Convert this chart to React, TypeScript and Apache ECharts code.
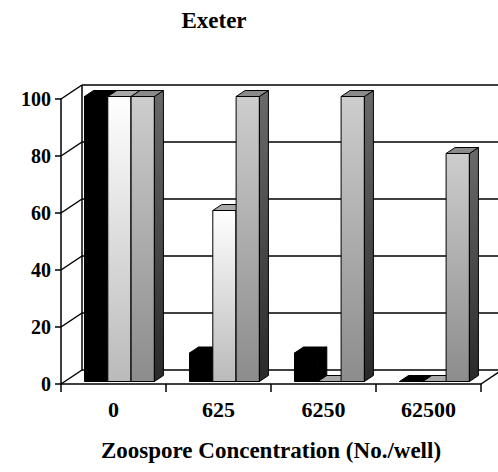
import React, { useEffect, useRef } from "react";
import * as echarts from "echarts";

const categories = ["0", "625", "6250", "62500"];
const seriesNames = ["Series A", "Series B", "Series C"];
const blackValues = [100, 10, 10, 0];
const whiteValues = [100, 60, 0, 0];
const grayValues = [100, 100, 100, 80];
const yTicks = [0, 20, 40, 60, 80, 100];

const FONT = "Liberation Serif";
const DX = 21; // wall depth
const DY = -14;
const BDX = 9; // bar depth
const BDY = -6;
const FDY = -2.5; // bar front-face offset

type Style = { front: any; top: string; side: any };

const styles: Style[] = [
  { front: "#000000", top: "#000000", side: "#000000" },
  {
    front: new echarts.graphic.LinearGradient(0, 0, 0, 1, [
      { offset: 0, color: "#ffffff" },
      { offset: 1, color: "#bababa" },
    ]),
    top: "#a8a8a8",
    side: "#8a8a8a",
  },
  {
    front: new echarts.graphic.LinearGradient(0, 0, 0, 1, [
      { offset: 0, color: "#cdcdcd" },
      { offset: 1, color: "#8c8c8c" },
    ]),
    top: "#8a8a8a",
    side: new echarts.graphic.LinearGradient(0, 0, 0, 1, [
      { offset: 0, color: "#6a6a6a" },
      { offset: 1, color: "#2a2a2a" },
    ]),
  },
];

function barRender(s: number) {
  return (params: any, api: any) => {
    const idx = api.value(0);
    const val = api.value(1);
    const top = api.coord([idx, val]);
    const base = api.coord([idx, 0]);
    const catW = api.size([1, 0])[0];
    const barW = catW * (23.3 / 105);
    const xL = top[0] - catW / 2 + catW * (23.5 / 105) + s * barW;
    const xR = xL + barW;
    const yT = top[1] + FDY;
    const yB = base[1] + FDY;
    const st = styles[s];
    const stroke = { stroke: "#000", lineWidth: 1 };
    return {
      type: "group",
      children: [
        {
          type: "polygon",
          shape: { points: [[xL, yB], [xL, yT], [xR, yT], [xR, yB]] },
          style: { fill: st.front, ...stroke },
        },
        {
          type: "polygon",
          shape: { points: [[xR, yB], [xR, yT], [xR + BDX, yT + BDY], [xR + BDX, yB + BDY]] },
          style: { fill: st.side, ...stroke },
        },
        {
          type: "polygon",
          shape: { points: [[xL, yT], [xL + BDX, yT + BDY], [xR + BDX, yT + BDY], [xR, yT]] },
          style: { fill: st.top, ...stroke },
        },
      ],
    };
  };
}

function wallRender(params: any, api: any) {
  const v = api.value(1);
  const cs = params.coordSys;
  const y = api.coord([0, v])[1];
  const y0 = api.coord([0, 0])[1];
  const x0 = cs.x;
  const x1 = cs.x + cs.width;
  const ls = { stroke: "#000", lineWidth: 1.5 };
  const children: any[] = [
    { type: "line", shape: { x1: x0, y1: y, x2: x0 + DX, y2: y + DY }, style: ls },
    { type: "line", shape: { x1: x0 + DX, y1: y + DY, x2: x1 + DX, y2: y + DY }, style: ls },
  ];
  if (v === 0) {
    children.push({ type: "line", shape: { x1: x1, y1: y, x2: x1 + DX, y2: y + DY }, style: ls });
  }
  if (v === yTicks[yTicks.length - 1]) {
    children.push({ type: "line", shape: { x1: x0 + DX, y1: y + DY, x2: x0 + DX, y2: y0 + DY }, style: ls });
  }
  return { type: "group", children };
}

export default function App() {
  const ref = useRef<HTMLDivElement>(null);
  useEffect(() => {
    if (!ref.current) return;
    const chart = echarts.init(ref.current, undefined, { renderer: "svg" });
    const valueSets = [blackValues, whiteValues, grayValues];
    chart.setOption({
      animation: false,
      backgroundColor: "#ffffff",
      title: {
        text: "Exeter",
        left: 209,
        top: 4,
        textAlign: "center",
        textStyle: { fontFamily: FONT, fontWeight: "bold", fontSize: 23, color: "#000" },
      },
      grid: { left: 61, right: 17, top: 99, bottom: 88 },
      xAxis: {
        type: "category",
        data: categories,
        axisLine: { show: true, lineStyle: { color: "#000", width: 1.5 } },
        axisTick: { show: true, length: 8, lineStyle: { color: "#000", width: 1.5 } },
        axisLabel: { fontFamily: FONT, fontWeight: "bold", fontSize: 22, color: "#000", margin: 14 },
        name: "Zoospore Concentration (No./well)",
        nameLocation: "middle",
        nameGap: 55,
        nameTextStyle: { fontFamily: FONT, fontWeight: "bold", fontSize: 23, color: "#000" },
      },
      yAxis: {
        type: "value",
        min: 0,
        max: 100,
        interval: 20,
        axisLine: { show: true, lineStyle: { color: "#000", width: 1.5 } },
        axisTick: { show: true, length: 6, lineStyle: { color: "#000", width: 1.5 } },
        axisLabel: { fontFamily: FONT, fontWeight: "bold", fontSize: 20, color: "#000", margin: 10 },
        splitLine: { show: false },
      },
      series: [
        {
          type: "custom",
          name: "walls",
          renderItem: wallRender,
          data: yTicks.map((v) => [0, v]),
          z: 1,
          silent: true,
        },
        ...valueSets.map((vals, s) => ({
          type: "custom",
          name: seriesNames[s],
          renderItem: barRender(s),
          data: vals.map((v, i) => [i, v]),
          z: 2 + s,
        })),
      ],
    });
    return () => chart.dispose();
  }, []);
  return (
    <div
      ref={ref}
      style={{ position: "fixed", left: 0, top: 0, width: 498, height: 472 }}
    />
  );
}
